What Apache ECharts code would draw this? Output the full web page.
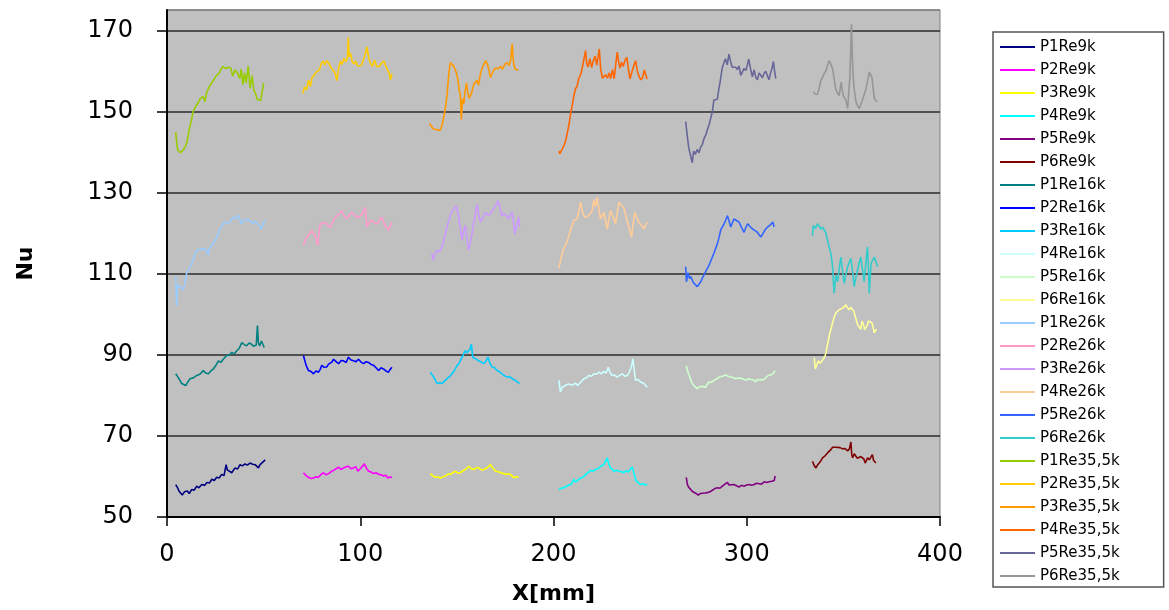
<!DOCTYPE html>
<html>
<head>
<meta charset="utf-8">
<script src="https://cdn.jsdelivr.net/npm/echarts@6/dist/echarts.min.js"></script>
<style>
  html, body { margin: 0; padding: 0; background: #fff; }
  #chart { width: 1169px; height: 610px; }
</style>
</head>
<body>
<div id="chart"></div>
<script>
// Nu along X[mm] as [x, Nu] pairs
const p1Re9k = [[4.5,58],[5.5,57.2],[6.2,56.4],[7.9,55.4],[9,56.2],[10.5,56.4],[11.5,55.8],[12.8,56.8],[14,56.6],[15.4,57.6],[16.5,57.2],[18,58],[19.5,57.8],[20.6,58.5],[22,58.4],[23.2,59.3],[24.5,59],[25.7,59.8],[27,59.6],[28.3,60.5],[29.5,60.2],[30.6,62.9],[31.2,61.6],[31.8,61.3],[33.5,60.9],[35.2,62.1],[36.5,61.8],[37.8,62.9],[39,62.6],[40.4,63.1],[41.5,62.8],[43,63.3],[44.3,63],[45.6,62.9],[47.3,62.1],[48,62.8],[49,63.3],[50.8,64.1]];
const p2Re9k = [[70.6,60.9],[72,60.2],[73.2,59.8],[74.5,59.5],[75.8,59.6],[77,59.9],[78.4,59.8],[79.7,60.5],[81,60.9],[82.3,60.4],[83.6,60.7],[85,61.2],[86.2,61.5],[87.5,61.9],[88.8,62.3],[90,61.7],[91.4,62.1],[92.7,62.4],[93.9,62.5],[95.2,61.9],[96.5,62.1],[97.6,62.4],[98.8,61.3],[100,61.9],[100.8,62.1],[102.2,63.1],[103.2,62],[104.3,61.3],[105.6,61.1],[106.9,60.7],[108.2,60.9],[109.5,60.5],[110.8,60.4],[112,60.1],[113.2,60.3],[114.3,59.6],[115.4,59.9],[116.4,59.7]];
const p3Re9k = [[136.3,60.7],[137.6,60.1],[138.9,59.8],[140.2,59.9],[141.5,59.6],[142.8,59.9],[144.1,60.1],[145.4,60.6],[146.6,60.5],[147.9,60.9],[149.2,61.3],[150.5,60.8],[151.8,60.9],[153.1,61.4],[154.4,61.7],[155.2,61.4],[156.1,62.5],[157.4,61.9],[158.7,61.7],[160,62.1],[161.3,62.2],[162.6,61.6],[163.9,61.7],[165.6,62.1],[167.4,62.9],[168.7,62],[170,61.3],[171.3,61.2],[172.5,60.9],[173.8,60.8],[175.1,60.5],[176.4,60.6],[177.7,60.5],[178.5,60.1],[179.4,59.7],[180.7,59.9],[182,59.8]];
const p4Re9k = [[202.8,56.8],[204,57.1],[205.3,57.2],[206.6,57.5],[207.9,57.9],[209.2,58.1],[210.5,59.3],[211.4,58.6],[212.3,58.9],[213.4,59.4],[214.5,59.7],[215.6,59.9],[216.6,60.5],[218,60.9],[219.2,61.5],[220.5,61.3],[221.8,61.7],[223.1,61.9],[224.4,62.5],[225.2,62.1],[226,62.9],[227,63.2],[227.8,64.6],[228.6,63.1],[229.5,62.1],[230.4,61.9],[231.3,61.3],[232.6,61.5],[233.8,61.3],[235.1,61.2],[236.4,60.9],[237.5,61.4],[238.7,61.1],[239.8,61.8],[240.8,62.3],[241.8,60.5],[242.8,58.9],[244,58.4],[245.1,58],[246.4,58.2],[247.7,57.9],[248.5,58]];
const p5Re9k = [[268.7,59.8],[269.3,58],[270,57.3],[271,56.8],[271.9,56.3],[272.7,56],[273.8,55.8],[274.9,55.4],[276,55.8],[277,56],[278.3,55.9],[279.6,56],[280.9,56.2],[282.2,56.6],[283.5,57],[284.8,57.2],[286.1,57.1],[287.4,57.6],[288.7,58.1],[290,58.5],[290.8,57.9],[291.6,58.1],[293.4,58],[294.7,57.7],[296,57.4],[297.3,57.8],[298.6,57.6],[299.9,57.9],[301.2,58],[302.5,57.8],[303.8,58],[305.1,58.3],[306.4,58.2],[307.7,58.1],[309,58.7],[310.3,58.5],[311.6,58.7],[313,58.8],[314.2,59],[314.7,60.1]];
const p6Re9k = [[334,63.7],[334.9,62.7],[335.8,62.1],[336.6,62.8],[337.5,63.3],[338.4,63.9],[339.2,64.6],[340.5,65.1],[341.8,65.8],[342.6,66],[343.5,66.6],[344.4,67.2],[345.2,67.6],[346.1,67.2],[347,67],[348.3,67.1],[349.6,66.8],[350.9,66.9],[352.2,66.3],[353.1,66.8],[353.9,68.5],[354.3,65.5],[354.8,64.6],[355.6,65.6],[356.5,65],[357.3,64.5],[358.2,64.2],[359,64.9],[359.9,65],[360.6,64.3],[361.3,63.3],[362,64],[362.5,64.6],[363.4,64.1],[364.3,63.7],[365,65.4],[365.6,64],[366.8,63.3]];

const p1Re16k = [[4.5,85.3],[5.5,84.6],[6.2,84.1],[7.6,82.9],[8.6,83.1],[9.7,82.4],[10.8,83.3],[11.9,84.1],[13.6,84.3],[15.4,84.9],[17,85.2],[18.8,86.1],[20,85.5],[21.4,85.3],[22.7,86],[24,86.5],[25.3,87.4],[26.6,88.5],[27.8,88.1],[29.1,88.9],[30,88.6],[30.9,89.8],[32.2,89.9],[33.5,90.6],[34.8,90.2],[36.1,91],[37.4,91.6],[38.7,93],[40,92.5],[41.2,92.2],[42.5,92.9],[43.8,92.6],[44.7,92.1],[45.6,91.8],[46.2,92.4],[46.8,97.2],[47.3,93],[47.9,92.2],[48.9,93.4],[49.6,92.6],[50.3,91.8]];
const p2Re16k = [[70.6,89.8],[71.4,88.4],[72,87.4],[73.2,86.1],[74.5,85.9],[75.8,85.3],[77.1,86],[78.4,85.7],[79.3,86.4],[80.1,87.4],[81.4,86.9],[82.7,87],[83.6,87.7],[84.4,87.4],[85.3,88.2],[86.2,88.9],[87.5,88.3],[88.8,87.8],[90.1,88.6],[91.4,88.5],[92.7,88.1],[93.9,89.4],[95.2,88.7],[96.5,88.5],[97.8,88.3],[99.1,88.9],[100.4,88.2],[101.7,87.8],[103,88.3],[104.3,88.1],[105.6,87.6],[106.9,87.4],[108.2,86.8],[109.5,86.1],[110.8,86.8],[112,86.5],[113.3,86],[114.6,85.7],[115.5,86.4],[116.4,86.9]];
const p3Re16k = [[136.3,85.7],[137.1,85.1],[138,84.5],[139,83.6],[139.8,82.9],[141,83.1],[142.3,82.9],[143.6,83.5],[144.9,84.1],[146.2,84.6],[147.5,85.3],[148.8,86.2],[150.1,87.3],[151.4,88.1],[152.7,89.4],[153.5,90.2],[154.4,91],[155.2,90.5],[156.1,90.6],[156.8,91.4],[157.5,92.6],[158.2,89.4],[159,89.8],[160.1,88.9],[161.3,88.5],[162.6,88.2],[163.9,87.8],[165,88.4],[166.1,89.4],[167.2,87.8],[168.2,87],[169.5,86.8],[170.8,86.1],[172.1,85.8],[173.4,85.3],[174.7,84.8],[176,84.5],[177.3,84.6],[178.6,84.1],[179.9,83.8],[181.2,83.3],[182.4,82.9]];
const p4Re16k = [[202.8,83.7],[203.6,80.8],[204.5,82],[205.4,82.4],[206.7,82.6],[208,82.8],[209.7,82.5],[211.4,83],[212.5,82.4],[214,83.2],[215.7,84.1],[217,84.3],[218.3,84.9],[219.6,84.7],[220.9,85.3],[222.2,85.2],[223.5,85.7],[224.8,85.3],[226,85.9],[227.2,85.5],[228.3,86.9],[229.3,85.6],[230.3,84.9],[231.6,85],[232.9,84.5],[234.2,84.9],[235.6,85.3],[236.9,84.7],[238.2,84.9],[239.1,85.6],[239.9,86.5],[240.5,87.5],[241.1,89],[241.8,86],[242.5,83.7],[243.7,83.9],[245,83.3],[245.9,83.4],[246.8,82.9],[247.6,82.6],[248.5,82]];
const p5Re16k = [[268.7,87.3],[269.5,85.8],[270.3,84.9],[271,83.8],[271.8,82.9],[273.1,82.2],[274.4,81.6],[275.3,82.1],[276.2,82.4],[277.5,82.2],[278.8,82],[279.7,82.8],[280.5,83.3],[281.8,83.2],[283,83.7],[284.4,84],[285.7,84.5],[287.4,84.7],[289.1,85],[290.4,84.7],[291.7,84.5],[293,84.4],[294.3,84.1],[295.6,84.3],[296.9,84.2],[298.2,84],[299.5,83.7],[300.8,84.1],[302.1,83.9],[303.4,83.8],[304.7,83.3],[305.5,83.9],[306.4,84.1],[307.7,83.8],[309,83.9],[310.1,84.5],[311.2,84.9],[312.2,84.5],[313.3,85.2],[314,85.4],[314.7,86.1]];
const p6Re16k = [[334.9,89.3],[335.5,86.5],[336.3,87.6],[337.1,88.5],[338,87.9],[338.8,88.1],[339.7,89],[340.6,89.8],[341.2,91],[341.8,92.6],[342.4,93.9],[343,95.4],[343.7,96.6],[344.4,97.9],[345.2,99.2],[346.1,100.3],[347,100.6],[347.8,101.1],[348.7,101],[349.6,101.5],[350.4,101.9],[351.3,102.3],[352.1,101.6],[353,101.1],[353.9,101.7],[354.8,101.9],[355.4,100.7],[356.1,99.5],[356.7,98.5],[357.3,97.5],[358.2,97.1],[359,96.3],[359.6,98.3],[360.3,97.6],[361,96.2],[361.7,95.9],[362.3,97.2],[363,98.3],[363.9,98.2],[364.8,97.9],[365.4,96.7],[366,95.4],[366.6,96],[367.2,96.3]];

const p1Re26k = [[4.5,109.3],[5,102],[5.5,107.2],[6.5,106.8],[7.5,106.5],[8.5,106],[9.3,107.6],[10.2,110.1],[11.5,111.3],[12.8,112.5],[14.1,114.3],[15.4,115.8],[16.7,115.9],[18,116.2],[19.3,116],[20.6,115.8],[21.2,114.6],[21.9,116.1],[23.2,117],[24.5,117.8],[25.7,119],[26.6,120],[27.5,121],[28.8,122.1],[30,122.7],[31.3,122.4],[32.6,122.7],[33.5,123.4],[34.4,123.9],[35.7,123.6],[37,124.3],[37.6,123.6],[38.2,122.2],[39.5,123.1],[40.8,123.3],[42.1,123.4],[43.4,122.9],[44.7,122.3],[45.5,122.9],[46.4,123.1],[47.5,122],[48.7,121],[49.7,122.3],[50.8,123.2]];
const p2Re26k = [[70.6,117],[71.5,118.2],[72.4,119],[73.7,119.8],[75,120.6],[76.5,119.4],[78,117],[78.7,120.5],[79.3,122.3],[80.6,122.4],[81.9,122.7],[83.2,121.9],[84.5,121.5],[85.8,122.8],[87,123.9],[88.8,124.6],[90.5,125.5],[91.8,124.1],[93,123.5],[94.3,124.4],[95.7,125.1],[97.3,124.2],[99,123.9],[100.8,124.5],[102.6,126.3],[103.4,121.5],[104.6,122.7],[106,123.1],[107.3,122.5],[108.7,122.3],[110,123.2],[111.2,123.9],[112.4,122.3],[113.5,121.4],[114.7,120.7],[115.6,121.8],[116.4,122.7]];
const p3Re26k = [[137.1,115],[137.6,113.3],[138.7,114.8],[139.8,115.8],[141,115.4],[142.3,116.6],[143.2,118.1],[144,119.8],[144.9,121.5],[145.8,123.1],[146.6,124.4],[147.5,125.5],[148.6,126],[149.6,126.7],[150.2,125.5],[150.8,124.3],[151.8,121.2],[152.7,118.2],[153.5,120.6],[154.4,121.9],[155.2,118.5],[156.1,115.8],[157,117.9],[157.8,119.8],[158.7,122.3],[159.6,124.7],[160.5,127.1],[161.3,124.5],[162.2,122.7],[163.5,123.9],[164.8,125.1],[166,124.4],[167.3,124.7],[168.2,125.4],[169,125.9],[170.2,126.9],[171.3,128],[172.4,126],[173.2,124.3],[174.2,124.8],[175.1,125.1],[176,124.2],[176.8,123.5],[177.7,124.6],[178.6,125.1],[179.3,122.5],[180,119.8],[181,122.2],[182,123.9],[182.4,121.5]];
const p4Re26k = [[202.8,111.3],[203.5,113],[204.4,114.8],[205.3,116.2],[206.2,117.1],[207,117.8],[207.9,119.2],[208.8,120.7],[209.7,122],[210.5,123.1],[211.4,123.3],[212.3,123.5],[213.1,125.5],[214,127.6],[214.8,125.7],[215.7,124.3],[216.6,123.8],[217.5,123.5],[218.8,124.6],[220,125.5],[220.9,128.3],[221.7,126.5],[222.6,128.8],[223.5,125.9],[224.3,123.5],[225.2,124.3],[226,125.1],[226.9,123.1],[227.8,121],[228.6,123.3],[229.5,125.5],[230.8,124.1],[232.1,122.3],[233,125],[233.8,127.6],[235.1,126.8],[236.4,126.3],[237.2,124.7],[238.1,123.1],[239.2,121.2],[240.4,119],[241.2,122.3],[242.1,125.1],[243.2,123.8],[244.2,122.7],[245.5,121.9],[246.8,121],[247.6,121.9],[248.5,122.7]];
const p5Re26k = [[268.4,111.7],[268.8,108],[269.6,110.2],[270.4,108.8],[271,109.3],[271.9,108.3],[272.7,107.6],[273.5,107.2],[274.4,106.8],[275.3,107.4],[276.2,108],[277,108.9],[277.9,109.7],[279.2,110.9],[280.5,112.1],[281.8,113.6],[283,115],[283.9,116.2],[284.8,117.4],[285.7,119],[286.5,120.7],[287.4,121.5],[288.3,122.3],[289.2,123.3],[290,124.3],[290.9,122.9],[291.7,121.5],[292.6,122.6],[293.4,123.5],[294.7,123.1],[296,122.7],[297.3,121.4],[298.6,120.2],[299.5,121.3],[300.4,122.3],[301.7,121.6],[303,121],[304.3,120.6],[305.5,120.2],[306.4,119.6],[307.3,119],[308.5,120],[309.8,121],[310.8,121.5],[311.9,121.9],[312.7,122.3],[313.6,122.7],[314.1,121.5]];
const p6Re26k = [[334,119.4],[334.5,121.9],[335.5,121.1],[336.6,122.3],[337.5,121.7],[338.3,121],[339.2,121.5],[340,121.9],[340.9,120.1],[341.8,118.2],[342.6,116.6],[343.5,115],[344,113.4],[344.4,111.7],[344.8,108.4],[345.2,105.2],[346.1,109.6],[347,108],[347.8,111.1],[348.7,114.1],[349.5,110.9],[350.4,107.6],[351.3,109.7],[352.2,111.7],[353,112.7],[353.9,113.7],[354.8,110.3],[355.6,106.8],[356.4,108.9],[357.3,110.9],[358.1,112.5],[359,114.1],[359.9,111],[360.7,108],[361.6,112.3],[362.1,115],[362.5,116.6],[363,110.9],[363.4,105.2],[364.3,112.5],[365.1,113.3],[366,114.1],[366.9,112.9],[367.7,111.7]];

const p1Re355k = [[4.5,144.9],[5,142.5],[5.5,140.5],[6.3,140.1],[7,139.8],[8,140.3],[9.5,141.3],[10.5,142.8],[11.5,145.5],[12.5,147.6],[13.6,150],[14.8,151.2],[16,152],[17.3,153.2],[18.7,153.7],[19.6,152.4],[20.5,154.6],[22.2,156.4],[24,157.6],[25.5,158.8],[27,159.4],[28,160.5],[29,161],[30.3,160.6],[31.7,160.9],[33,160.7],[34,158.7],[35.3,160.2],[36.5,159.4],[37.6,158.1],[38.4,160.4],[39.3,156.6],[40.1,159.5],[41,157],[42,161.2],[43,155.7],[44,158.8],[45,155.1],[46,154.2],[46.6,153],[47.5,153.4],[48.5,152.7],[49.5,152.5],[50,157]];
const p2Re355k = [[70.3,154.4],[71.2,156],[72.2,155.3],[73.2,157.7],[74.2,156.2],[75,158.3],[76.3,159],[77.5,159.8],[78.8,160.2],[79.8,161.7],[80.7,162.4],[81.6,161.5],[82.7,162.5],[83.7,161.9],[84.8,160.8],[85.8,161],[86.8,159.6],[87.9,157.6],[88.8,160.7],[89.8,162.4],[90.6,161.6],[91.6,163.1],[92.6,162.2],[93.4,163.5],[93.8,168.2],[94.3,163.4],[95,164.3],[95.8,162.3],[96.7,161.7],[97.6,162.4],[98.6,161.2],[99.6,161.1],[100.6,161.3],[101.6,162.7],[102.6,164.1],[103.5,165.9],[104.3,163.4],[105.2,161.9],[106.2,161.1],[107.4,162.6],[108.6,161],[109.8,161.1],[111,161.8],[112.2,162.5],[113.2,161.2],[114.1,160.2],[115,159.5],[115.6,157.8],[116.4,159.3]];
const p3Re355k = [[135.9,147],[136.7,147.4],[137.6,145.8],[138.5,146],[139.5,145.5],[140.5,145.9],[141.3,145.3],[142.2,146.4],[143.1,148.3],[144,150.7],[144.8,153.6],[145.4,156.9],[146,160.1],[146.6,162],[147.4,162.4],[148.2,161.3],[149,161],[149.8,159.5],[150.5,157.9],[151.2,155.3],[151.8,154],[152.3,148],[152.9,153.1],[153.6,151.9],[154.2,154.8],[155,157],[155.7,154.6],[156.4,153.2],[157,152.8],[157.8,154.8],[158.7,156.7],[159.6,157.1],[160.4,157.7],[161.2,156.4],[162,158.9],[163,160.5],[164,161.7],[165,162.5],[165.8,161.6],[166.6,160.2],[167.3,158.4],[168,158],[168.9,160],[169.8,160.6],[170.6,161],[171.6,160.6],[172.6,161.1],[173.6,160.4],[174.8,161.6],[176,162],[177,161.3],[177.8,162.6],[178.6,166.6],[179.4,161.7],[180.2,160.4],[181,160],[181.8,160.2]];
const p4Re355k = [[202.8,140.2],[203.3,139.6],[203.9,139.5],[204.6,140.8],[205.4,141.6],[206.2,142.6],[207.1,144.6],[208,146.7],[208.8,149.3],[209.7,151.5],[210.5,153.8],[211.4,155.6],[212.2,156.2],[213,158],[214,159],[214.8,160.5],[215.7,162.8],[216.6,165],[217.2,161.7],[217.9,161],[218.8,163],[219.7,160.8],[220.6,162.5],[221.5,163.6],[222.4,161.4],[223.2,161],[223.7,165.4],[224.4,160.5],[225.3,158.2],[226.2,158],[227,159],[227.9,158.2],[228.8,159.5],[229.6,158.1],[230.5,160.3],[231.4,158.1],[232.1,161.2],[233,164.6],[233.7,162.2],[234.4,160.7],[235.2,162.1],[236.1,161.1],[237,162.6],[238,163.3],[238.9,159.9],[239.6,158],[240.5,159.6],[241.5,161.2],[242.5,162.5],[243.3,160.1],[244.2,158.7],[245.2,157.8],[246.1,158.3],[247,160.2],[247.7,159],[248.5,158]];
const p5Re355k = [[268.4,147.5],[269.2,144],[270,141],[270.9,139.2],[271.8,137.3],[272.5,140.2],[273.4,139.4],[274.3,140.6],[275.3,139.8],[276.1,141.2],[277,141.8],[277.9,143.3],[278.8,144.2],[279.6,145.4],[280.5,146.7],[281.4,148.4],[282.2,149.9],[282.6,151.4],[283,152.8],[283.9,152.6],[284.8,153],[285.5,155.4],[286.2,157.2],[286.8,159.1],[287.4,160.9],[288.2,162],[289,163],[289.9,161.5],[290.8,164.1],[291.7,162.2],[292.5,160.9],[293.4,161.3],[294.3,160.9],[295.1,160.3],[296,161.2],[296.9,158.9],[297.7,159.7],[298.6,160.6],[299.5,160.1],[300.3,161.4],[301,162.9],[302,160.4],[302.9,158.5],[303.8,160.2],[304.7,158.4],[305.5,157.8],[306.4,159.5],[307.2,159.9],[308.1,158.3],[309,159.4],[309.8,159.9],[310.7,158.8],[311.5,157.8],[312.4,159.6],[313.2,160.8],[313.8,162.3],[314.4,160],[315,158.1]];
const p6Re355k = [[334.5,154.8],[335.5,154.3],[336.6,154.2],[337.5,155.8],[338.3,157.6],[339.2,158.4],[340.1,159.4],[341,160],[341.8,161.3],[342.6,162.5],[343.5,161.7],[344.4,160.5],[345.2,158.2],[346,155.6],[346.9,154.6],[347.8,153.9],[348.4,155.8],[348.9,157.2],[349.4,155.2],[350,153.9],[350.6,153.3],[351.3,152.8],[351.8,151.6],[352.2,150.7],[352.8,154.6],[353.3,158],[353.8,164.5],[354.2,171.5],[354.6,164],[355,159.2],[355.4,156.5],[355.9,154.5],[356.5,152.4],[357.3,151.5],[358.2,150.7],[359.1,151.9],[360,153],[360.8,154.2],[361.7,155.6],[362.5,157.4],[363.4,159.7],[364.2,160.1],[364.8,158.4],[365.4,155.7],[366,153.2],[366.7,152.7],[367.5,152.4]];

const seriesNames = [
  'P1Re9k', 'P2Re9k', 'P3Re9k', 'P4Re9k', 'P5Re9k', 'P6Re9k',
  'P1Re16k', 'P2Re16k', 'P3Re16k', 'P4Re16k', 'P5Re16k', 'P6Re16k',
  'P1Re26k', 'P2Re26k', 'P3Re26k', 'P4Re26k', 'P5Re26k', 'P6Re26k',
  'P1Re35,5k', 'P2Re35,5k', 'P3Re35,5k', 'P4Re35,5k', 'P5Re35,5k', 'P6Re35,5k'
];
const seriesData = [
  p1Re9k, p2Re9k, p3Re9k, p4Re9k, p5Re9k, p6Re9k,
  p1Re16k, p2Re16k, p3Re16k, p4Re16k, p5Re16k, p6Re16k,
  p1Re26k, p2Re26k, p3Re26k, p4Re26k, p5Re26k, p6Re26k,
  p1Re355k, p2Re355k, p3Re355k, p4Re355k, p5Re355k, p6Re355k
];
const seriesColors = [
  '#000080', '#FF00FF', '#FFFF00', '#00FFFF', '#800080', '#800000',
  '#008080', '#0000FF', '#00CCFF', '#CCFFFF', '#CCFFCC', '#FFFF99',
  '#99CCFF', '#FF99CC', '#CC99FF', '#FFCC99', '#3366FF', '#33CCCC',
  '#99CC00', '#FFCC00', '#FF9900', '#FF6600', '#666699', '#969696'
];
const yTicks = [50, 70, 90, 110, 130, 150, 170];
const xTicks = [0, 100, 200, 300, 400];

const font = '"DejaVu Sans", Arial, sans-serif';

const chart = echarts.init(document.getElementById('chart'), null, { renderer: 'canvas' });

const series = seriesNames.map((name, i) => ({
  name: name,
  type: 'line',
  data: seriesData[i],
  showSymbol: false,
  symbol: 'none',
  lineStyle: { width: 1.6, color: seriesColors[i] },
  itemStyle: { color: seriesColors[i] },
  animation: false
}));

const option = {
  backgroundColor: '#ffffff',
  animation: false,
  grid: {
    left: 167,
    right: 229,
    top: 10,
    bottom: 87,
    show: true,
    backgroundColor: '#C0C0C0',
    borderColor: '#808080',
    borderWidth: 1
  },
  legend: {
    orient: 'vertical',
    left: 993,
    top: 32,
    data: seriesNames,
    icon: 'rect',
    backgroundColor: '#ffffff',
    borderColor: '#555555',
    borderWidth: 1.5,
    borderRadius: 0,
    padding: [7, 44, 3, 7],
    itemGap: 7,
    itemWidth: 35,
    itemHeight: 2,
    textStyle: { fontFamily: font, fontSize: 15, color: '#000', lineHeight: 16 }
  },
  xAxis: {
    type: 'value',
    min: xTicks[0],
    max: xTicks[xTicks.length - 1],
    interval: 100,
    name: 'X[mm]',
    nameLocation: 'middle',
    nameGap: 66,
    nameTextStyle: { fontFamily: font, fontSize: 22, fontWeight: 'bold', color: '#000' },
    axisLine: { show: true, onZero: false, lineStyle: { color: '#000', width: 2 } },
    axisTick: { show: true, inside: false, length: 9, lineStyle: { color: '#000', width: 1.5 } },
    axisLabel: { fontFamily: font, fontSize: 24, color: '#000', margin: 26 },
    splitLine: { show: false }
  },
  yAxis: {
    type: 'value',
    min: yTicks[0],
    max: 175,
    interval: 20,
    name: 'Nu',
    nameLocation: 'middle',
    nameGap: 130,
    nameRotate: 90,
    nameTextStyle: { fontFamily: font, fontSize: 22, fontWeight: 'bold', color: '#000' },
    axisLine: { show: true, onZero: false, lineStyle: { color: '#000', width: 2 } },
    axisTick: { show: true, inside: false, length: 10, lineStyle: { color: '#000', width: 1.5 } },
    axisLabel: { fontFamily: font, fontSize: 24, color: '#000', margin: 34, showMaxLabel: false },
    splitLine: {
      show: true,
      lineStyle: {
        // last entry is the 175 top edge, keep it as the plot border colour
        color: ['#2b2b2b', '#2b2b2b', '#2b2b2b', '#2b2b2b', '#2b2b2b', '#2b2b2b', '#2b2b2b', '#808080'],
        width: 1.5
      }
    }
  },
  series: series
};

chart.setOption(option);
</script>
</body>
</html>
